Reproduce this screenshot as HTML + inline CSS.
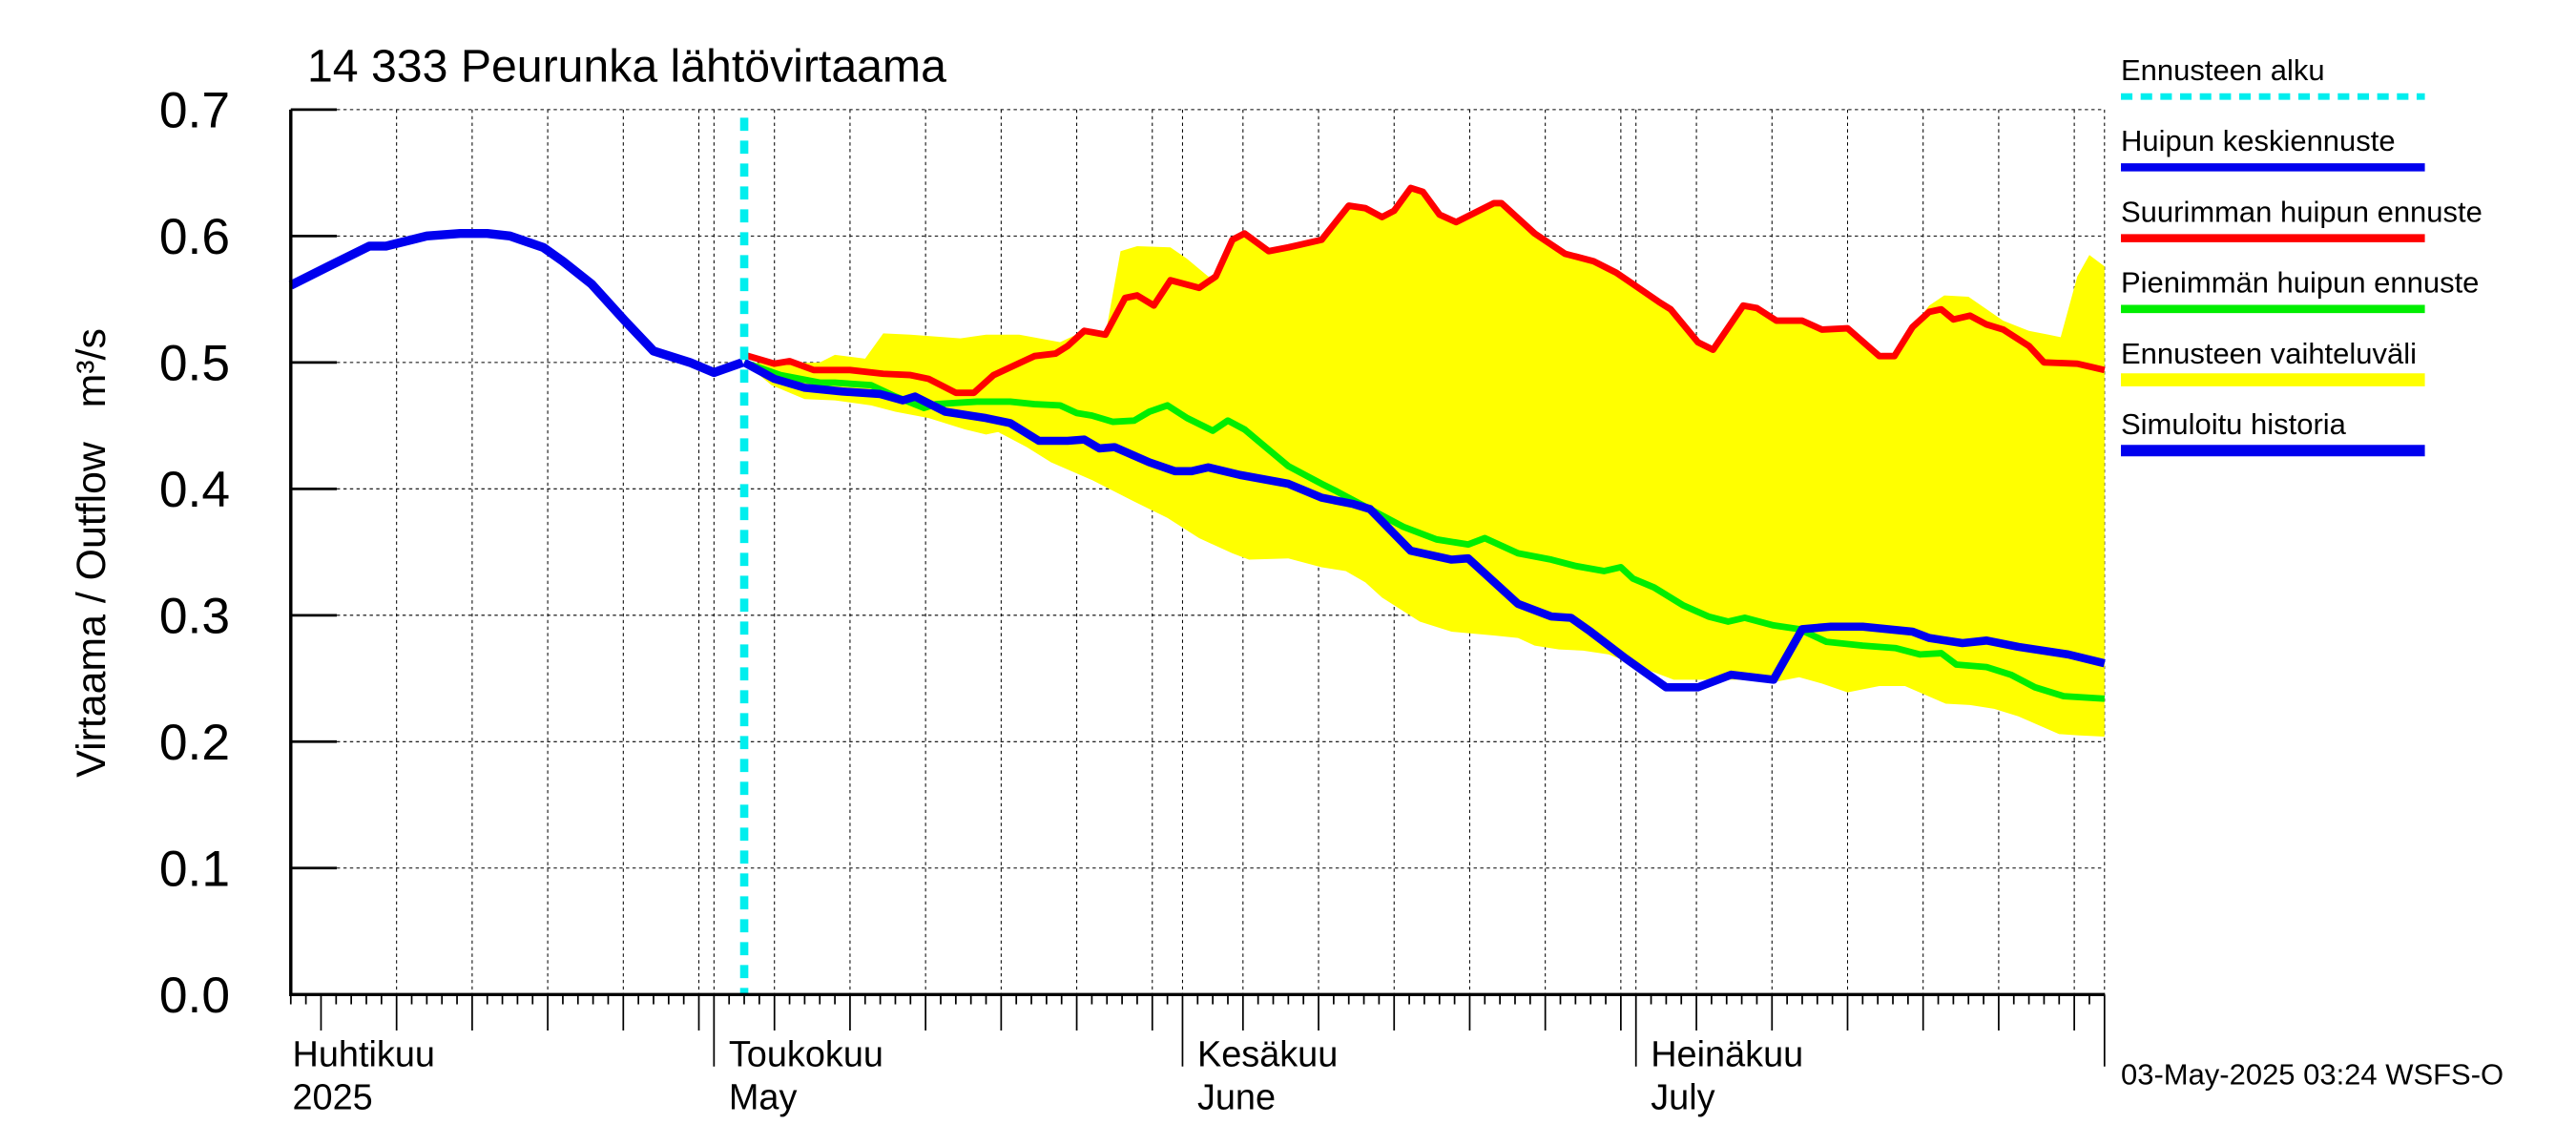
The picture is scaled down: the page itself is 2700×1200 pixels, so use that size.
<!DOCTYPE html>
<html><head><meta charset="utf-8"><style>
html,body{margin:0;padding:0;background:#fff;}
svg{display:block;font-family:"Liberation Sans",sans-serif;}
</style></head><body>
<svg id="chart" width="2700" height="1200" viewBox="0 0 1568 700" preserveAspectRatio="none" xmlns="http://www.w3.org/2000/svg">
<rect x="0" y="0" width="1568" height="700" fill="#fff"/>
<text x="187" y="50" font-size="28" fill="#000">14 333 Peurunka lähtövirtaama</text>
<text transform="translate(64,338) rotate(-90)" text-anchor="middle" font-size="25" fill="#000">Virtaama / Outflow &#160;&#160;m³/s</text>
<g id="grid"></g>
<g id="band"></g>
<g id="lines"></g>
<g id="axes"></g>
<g id="legend"></g>
<text x="1291" y="663" font-size="18" fill="#000">03-May-2025 03:24 WSFS-O</text>
</svg>
<script>
const NS="http://www.w3.org/2000/svg";
// ---- data (day index from 3-Apr-2025) ----
const histDays=[0,2.5,5.2,6.3,9,11.2,13,14.5,16.7,18,19.9,22.1,24,26.4,28,29.9];
const histVals=[0.561,0.576,0.592,0.592,0.600,0.602,0.602,0.600,0.591,0.580,0.562,0.533,0.509,0.500,0.492,0.500];
const meanDays=[30,32,34,36.5,39,40.5,41.3,43.3,46,47.6,49.5,51.4,52.5,53.5,54.5,56.8,58.5,59.6,60.7,62.8,66,68.2,70.3,71.4,74.1,76.8,77.9,81.2,83.4,84.7,86,88.3,91,93.1,95.3,98.1,100,101.9,104,107.3,108.4,110.6,112.2,114.3,117.6,120];
const meanVals=[0.500,0.487,0.480,0.477,0.475,0.470,0.473,0.461,0.456,0.452,0.438,0.438,0.439,0.432,0.433,0.421,0.414,0.414,0.417,0.411,0.404,0.393,0.388,0.384,0.351,0.344,0.345,0.309,0.299,0.298,0.287,0.266,0.243,0.243,0.253,0.249,0.289,0.291,0.291,0.287,0.282,0.278,0.280,0.275,0.269,0.262];
const maxDays=[30,32,33,34.6,37,39.2,41,42.2,44,45.2,46.5,49.2,50.6,51.4,52.5,53.9,55.2,56,57.1,58.2,60.1,61.2,62.3,63.1,64.7,66,68.2,70,71.1,72.2,73,74.1,74.9,76,77.1,79.6,80.1,82.3,84.3,86.2,87.7,88.8,90.5,91.3,93.1,94.1,96.1,97,98.3,100,101.3,103,105.1,106.1,107.3,108.4,109.2,110,111.1,112.2,113.3,115,116,118.2,120];
const maxVals=[0.506,0.499,0.501,0.494,0.494,0.491,0.490,0.487,0.476,0.476,0.490,0.505,0.507,0.513,0.525,0.522,0.551,0.553,0.545,0.565,0.559,0.568,0.597,0.602,0.588,0.591,0.597,0.624,0.622,0.615,0.620,0.638,0.635,0.617,0.611,0.626,0.626,0.602,0.586,0.580,0.571,0.562,0.548,0.542,0.516,0.510,0.545,0.543,0.533,0.533,0.526,0.527,0.505,0.505,0.528,0.540,0.542,0.534,0.537,0.530,0.526,0.513,0.500,0.499,0.494];
const minDays=[30,32.4,35,36,38.4,40,41.9,42.7,45.4,47.6,49.2,50.9,52,53,54.4,55.8,56.8,58,59.3,61,62,63.1,64.5,66,68.2,69.2,71.4,73.6,75.8,77.9,79,81.2,83.4,85,86.9,88,88.8,90.2,92.1,93.8,95.1,96.2,98.1,99.8,101.6,104,106.2,107.8,109.2,110.2,112.2,113.8,115.4,117.3,120];
const minVals=[0.500,0.490,0.484,0.484,0.482,0.473,0.464,0.467,0.469,0.469,0.467,0.466,0.460,0.458,0.453,0.454,0.461,0.466,0.456,0.446,0.454,0.447,0.433,0.418,0.404,0.398,0.384,0.370,0.360,0.356,0.361,0.349,0.344,0.339,0.335,0.338,0.329,0.322,0.308,0.299,0.295,0.298,0.292,0.289,0.279,0.276,0.274,0.269,0.270,0.261,0.259,0.253,0.243,0.236,0.234];
const upDays=[30,32,35,36,38,39.2,41,44.3,46,48.2,50.9,52.5,53.9,54.9,56,58.2,59.3,60.7,61.2,62.3,63.1,64.7,66,68.2,70,71.1,72.2,73,74.1,74.9,76,77.1,79.6,80.1,82.3,84.3,86.2,87.7,88.8,90.5,91.3,93.1,94.1,96.1,97,98.3,100,101.3,103,105.1,106.1,107.3,108.4,109.4,111,113.3,115,116.3,117.1,118.2,119,120];
const upVals=[0.500,0.499,0.500,0.506,0.503,0.523,0.522,0.519,0.522,0.522,0.516,0.525,0.522,0.588,0.592,0.591,0.582,0.568,0.568,0.597,0.602,0.588,0.591,0.597,0.624,0.622,0.615,0.620,0.638,0.635,0.617,0.611,0.626,0.626,0.602,0.586,0.580,0.571,0.562,0.548,0.542,0.516,0.510,0.545,0.543,0.533,0.533,0.526,0.527,0.505,0.505,0.528,0.545,0.553,0.552,0.533,0.525,0.522,0.520,0.568,0.585,0.576];
const loDays=[30,31.8,34,36,38.4,40,42.2,44.6,46,46.8,48.7,50.3,53,55.8,58,60.1,62.3,63.4,66,68.2,69.8,71.1,72.2,74.7,76.8,79.6,81.2,82.3,83.9,85.5,87.2,89.3,91.5,93.1,96.4,98.1,99.8,101.3,103,105.1,106.8,109.5,111.1,112.7,114.3,117,118.2,120];
const loVals=[0.500,0.482,0.471,0.470,0.466,0.461,0.456,0.447,0.443,0.445,0.433,0.421,0.407,0.390,0.377,0.361,0.349,0.344,0.345,0.338,0.335,0.326,0.314,0.295,0.287,0.284,0.282,0.276,0.273,0.272,0.269,0.259,0.249,0.249,0.249,0.247,0.251,0.246,0.239,0.244,0.244,0.230,0.229,0.226,0.220,0.206,0.205,0.204];
const yTicks=["0.0","0.1","0.2","0.3","0.4","0.5","0.6","0.7"];
const monthFi=["Huhtikuu","Toukokuu","Kesäkuu","Heinäkuu"];
const monthEn=["2025","May","June","July"];
const monthStartDays=[-2,28,59,89,120];
const forecastStartDay=30;
// ---- axis functions ----
const X0=177,X1=1281,Y0=608,Y1=67,NDAYS=120,VMAX=0.7;
const xs=d=>X0+d*(X1-X0)/NDAYS;
const ys=v=>Y0-v*(Y0-Y1)/VMAX;
function mk(tag,attrs,parent){const e=document.createElementNS(NS,tag);for(const k in attrs)e.setAttribute(k,attrs[k]);parent.appendChild(e);return e;}
const grid=document.getElementById('grid'),axes=document.getElementById('axes'),band=document.getElementById('band'),lines=document.getElementById('lines'),legend=document.getElementById('legend');
// horizontal grid + y labels
yTicks.forEach((t,i)=>{const v=parseFloat(t);const y=ys(v);
 if(i>0){const g=mk('line',{x1:X0,x2:X1,y1:y,y2:y,stroke:'#000','stroke-width':0.6,'stroke-dasharray':'2,2'},grid);
 
 }
 const tk=mk('line',{x1:X0,x2:X0+28,y1:y,y2:y,stroke:'#000','stroke-width':1.6},axes);
 
 
 const tx=mk('text',{x:140,y:y+11,'text-anchor':'end','font-size':31,fill:'#000'},axes);tx.textContent=t;
 
 
});
// vertical grid + x ticks
const months=[[0,30,3],[28,31,1],[59,30,1],[89,31,1]]; // [startDayIdx of day1, len, ...]
const firsts=[-2,28,59,89];const lens=[30,31,30,31];
for(let d=0;d<=NDAYS;d++){
 let dom=null;
 for(let m=0;m<4;m++){const k=d-firsts[m]+1;if(k>=1&&k<=lens[m])dom=k;}
 if(d===120)dom=1;
 let len=6;
 if(dom===1)len=44;else if(dom%5===0)len=22;
 const t=mk('line',{x1:xs(d),x2:xs(d),y1:Y0,y2:Y0+len,stroke:'#000','stroke-width':1},axes);
 
 
 if((dom%5===0||dom===1)&&d>2){
  const g=mk('line',{x1:xs(d),x2:xs(d),y1:Y1,y2:Y0,stroke:'#000','stroke-width':0.6,'stroke-dasharray':'2,2'},grid);
  
  
 }
}
monthFi.forEach((m,i)=>{const x=i===0?X0+1:xs(monthStartDays[i])+9;
 const a=mk('text',{x:x,y:652,'font-size':22,fill:'#000'},axes);a.textContent=m;
 
 
 const b=mk('text',{x:x,y:678,'font-size':22,fill:'#000'},axes);b.textContent=monthEn[i];
 
 
});
const ax=mk('path',{d:`M${X0},${Y1} V${Y0} H${X1}`,fill:'none',stroke:'#000','stroke-width':2},axes);


// band
let pts=upDays.map((d,i)=>xs(d)+','+ys(upVals[i]));
for(let i=loDays.length-1;i>=0;i--)pts.push(xs(loDays[i])+','+ys(loVals[i]));
const poly=mk('polygon',{points:pts.join(' '),fill:'#ffff00',stroke:'none'},band);


function line(ds,vs,color,w,name){const p=mk('polyline',{points:ds.map((d,i)=>xs(d)+','+ys(vs[i])).join(' '),fill:'none',stroke:color,'stroke-width':w,'stroke-linejoin':'round'},lines);
 
 }
line(maxDays,maxVals,'#ff0000',4,'max-peak-line');
line(minDays,minVals,'#00ee00',4,'min-peak-line');
line(meanDays,meanVals,'#0000ee',5,'mean-peak-line');
line(histDays,histVals,'#0000ee',5.5,'history-line');
const fc=mk('line',{x1:xs(forecastStartDay),x2:xs(forecastStartDay),y1:72,y2:Y0,stroke:'#00eeee','stroke-width':5,'stroke-dasharray':'8,6'},lines);


// legend
const leg=[["Ennusteen alku","#00eeee",true,4],["Huipun keskiennuste","#0000ee",false,5],["Suurimman huipun ennuste","#ff0000",false,5],["Pienimmän huipun ennuste","#00ee00",false,5],["Ennusteen vaihteluväli","#ffff00",false,8],["Simuloitu historia","#0000ee",false,7]];
leg.forEach((l,i)=>{const y=49+i*43.3;
 const t=mk('text',{x:1291,y:y,'font-size':18,fill:'#000'},legend);t.textContent=l[0];
 
 
 const a={x1:1291,x2:1476,y1:y+10,y2:y+10,stroke:l[1],'stroke-width':l[3]};if(l[2])a['stroke-dasharray']='7,5';
 const s=mk('line',a,legend);
 
 
});
</script>
</body></html>
